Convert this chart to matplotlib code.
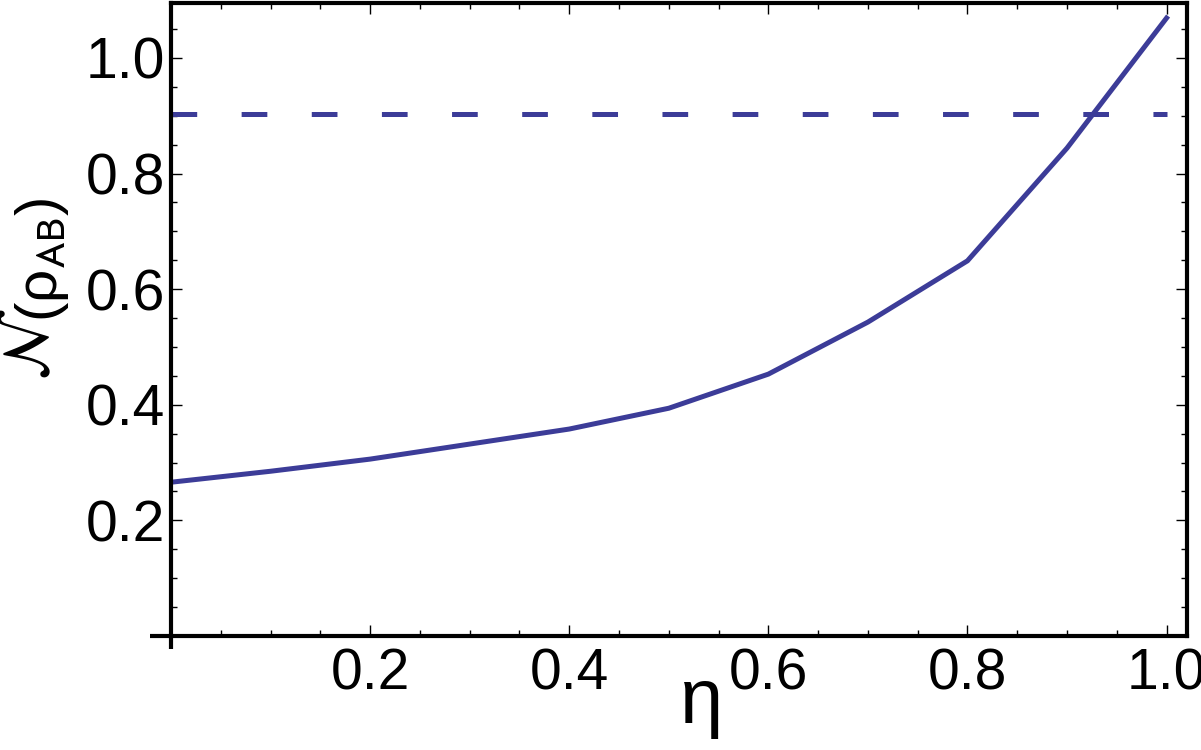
import numpy as np
import matplotlib
matplotlib.use('Agg')
import matplotlib.pyplot as plt
from matplotlib.ticker import MultipleLocator, FixedLocator

# negativity vs eta
eta = [0.0, 0.1, 0.2, 0.3, 0.4, 0.5, 0.6, 0.7, 0.8, 0.9, 1.0]
neg = [0.266, 0.285, 0.306, 0.332, 0.358, 0.394, 0.453, 0.543, 0.649, 0.844, 1.069]
threshold = 0.903

xticks = [0.2, 0.4, 0.6, 0.8, 1.0]
yticks = [0.2, 0.4, 0.6, 0.8, 1.0]

line_color = '#3c3c98'
lw = 3.6

plt.rcParams['font.family'] = ['Liberation Sans', 'DejaVu Sans']
plt.rcParams['mathtext.fontset'] = 'stixsans'

fig = plt.figure(figsize=(12.01, 7.5), dpi=100)
ax = fig.add_axes([0.1424, 0.152, 0.846, 0.844])

ax.plot(eta, neg, '-', color=line_color, lw=lw, solid_joinstyle='miter')
ax.plot([0, 1.0], [threshold, threshold], color=line_color, lw=lw,
        dashes=(18.5 / lw, 32 / lw))

ax.set_xlim(0, 1.0206)
ax.set_ylim(0, 1.095)

for s in ax.spines.values():
  s.set_linewidth(3)

# Mathematica-style axis stubs crossing at the origin
ax.plot([0, 0], [-0.02, 0], transform=ax.transAxes, color='k', lw=3, clip_on=False,
        solid_capstyle='butt')
ax.plot([-0.021, 0], [0, 0], transform=ax.transAxes, color='k', lw=3, clip_on=False,
        solid_capstyle='butt')

ax.xaxis.set_major_locator(FixedLocator(xticks))
ax.yaxis.set_major_locator(FixedLocator(yticks))
ax.xaxis.set_minor_locator(MultipleLocator(0.05))
ax.yaxis.set_minor_locator(MultipleLocator(0.05))
ax.set_xticklabels(['%.1f' % v for v in xticks])
ax.set_yticklabels(['%.1f' % v for v in yticks])

ax.tick_params(which='both', direction='in', top=True, right=True, width=1.0, labelsize=41)
ax.tick_params(which='major', length=8)
ax.tick_params(which='minor', length=4.5)
ax.tick_params(axis='x', which='major', pad=8)
ax.tick_params(axis='y', which='major', pad=4)

ax.set_xlabel('η', fontsize=56)
ax.xaxis.set_label_coords(0.522, -0.047)

# y label: big script N followed by (rho_AB)
ax.text(-0.137, 0.461, r'$\mathcal{N}$', fontsize=47, rotation=90,
        ha='center', va='center', transform=ax.transAxes)
ax.text(-0.127, 0.594, r'(ρ$_{\mathrm{AB}}$)', fontsize=42, rotation=90,
        ha='center', va='center', transform=ax.transAxes)

fig.savefig('out.png', dpi=100)
